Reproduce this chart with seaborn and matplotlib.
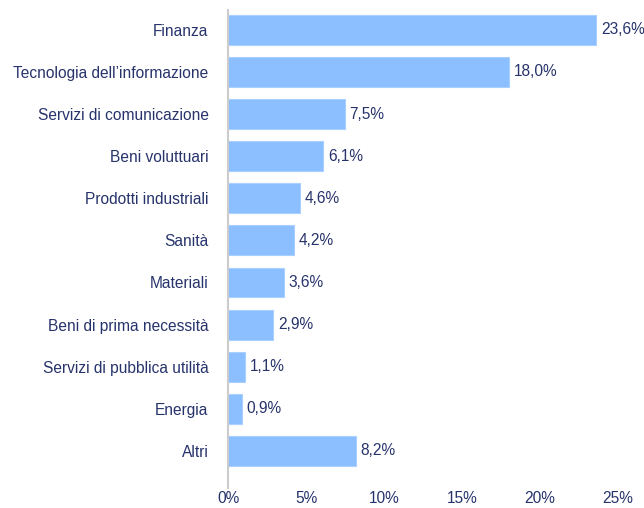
import matplotlib
matplotlib.use("Agg")
import matplotlib.pyplot as plt
import seaborn as sns
import pandas as pd
from matplotlib.ticker import FuncFormatter

sectors = [
    "Finanza",
    "Tecnologia dell\u2019informazione",
    "Servizi di comunicazione",
    "Beni voluttuari",
    "Prodotti industriali",
    "Sanità",
    "Materiali",
    "Beni di prima necessità",
    "Servizi di pubblica utilità",
    "Energia",
    "Altri",
]
weights = [23.6, 18.0, 7.5, 6.1, 4.6, 4.2, 3.6, 2.9, 1.1, 0.9, 8.2]
x_ticks = [0, 5, 10, 15, 20, 25]

df = pd.DataFrame({"settore": sectors, "peso": weights})

sns.set_theme(style="white")
plt.rcParams["font.family"] = ["Liberation Sans", "DejaVu Sans"]

text_color = "#27336b"
bar_color = "#8bbfff"
fs = 11.2

fig = plt.figure(figsize=(6.44, 5.08), dpi=100)
ax = fig.add_axes([228 / 644, 20 / 508, 390 / 644, 478 / 508])

sns.barplot(data=df, x="peso", y="settore", orient="h", color=bar_color,
            saturation=1, width=0.71, edgecolor="#a9d0ff", linewidth=0.8, ax=ax)

for i, v in enumerate(weights):
    ax.text(v + 0.3, i, f"{v:.1f}%".replace(".", ","), va="center", ha="left",
            fontsize=fs, color=text_color, clip_on=False)

ax.set_xlim(0, 25)
ax.set_ylim(10.88, -0.47)
ax.set_xticks(x_ticks)
ax.xaxis.set_major_formatter(FuncFormatter(lambda v, p: f"{v:.0f}%"))
ax.set_xlabel("")
ax.set_ylabel("")
ax.tick_params(axis="both", length=0, labelsize=fs, colors=text_color)
ax.tick_params(axis="x", pad=2)
ax.tick_params(axis="y", pad=14)

for side in ["top", "right", "bottom"]:
    ax.spines[side].set_visible(False)
ax.spines["left"].set_color("#cccccc")
ax.spines["left"].set_linewidth(1.5)

fig.savefig("out.png", dpi=100)
